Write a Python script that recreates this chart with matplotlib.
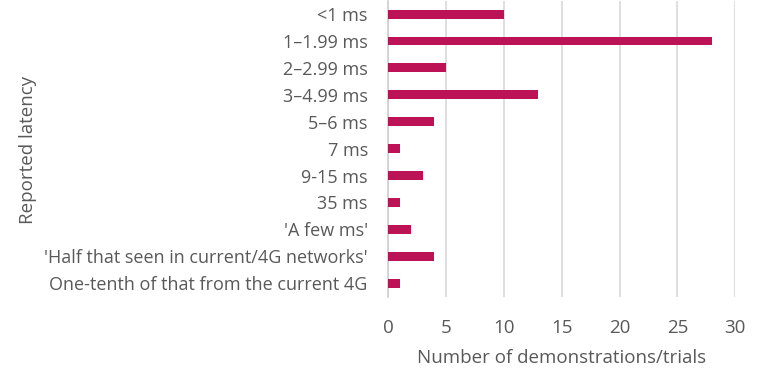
import matplotlib.pyplot as plt

categories = ["<1 ms", "1\u20131.99 ms", "2\u20132.99 ms", "3\u20134.99 ms", "5\u20136 ms", "7 ms",
              "9-15 ms", "35 ms", "'A few ms'", "'Half that seen in current/4G networks'",
              "One-tenth of that from the current 4G"]
counts = [10, 28, 5, 13, 4, 1, 3, 1, 2, 4, 1]

plt.rcParams['font.family'] = ['Open Sans', 'DejaVu Sans']
text_col = "#595959"

fig = plt.figure(figsize=(7.65, 3.82), dpi=100)
ax = fig.add_axes([388/765, 1 - 296.7/382, (735.3 - 388)/765, 296.1/382])

y = list(range(len(categories)))
ax.barh(y, counts, height=0.33, color="#BC1356", zorder=3)
ax.set_ylim(len(categories) - 0.5, -0.5)
ax.set_xlim(0, 30)
ax.set_xticks(range(0, 31, 5))
ax.set_yticks(y)
ax.set_yticklabels(categories, fontsize=13, color=text_col)
ax.tick_params(axis='x', labelsize=13.5, colors=text_col, length=0, pad=16)
ax.tick_params(axis='y', length=0, pad=14.5)
ax.grid(axis='x', color="#d9d9d9", linewidth=1.2, zorder=0)
for s in ["top", "right", "bottom"]:
    ax.spines[s].set_visible(False)
ax.spines["left"].set_color("#d0d0d0")
ax.spines["left"].set_linewidth(1.2)

ax.set_xlabel("Number of demonstrations/trials", fontsize=13.5, color=text_col, labelpad=9)
fig.text(28/765, 1 - 150/382, "Reported latency", rotation=90, ha='center', va='center',
         fontsize=13.5, color=text_col)

fig.savefig("out.png", dpi=100)
